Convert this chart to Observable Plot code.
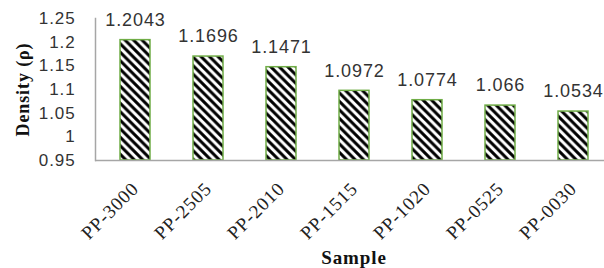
<!DOCTYPE html>
<html>
<head>
<meta charset="utf-8">
<script src="https://cdn.jsdelivr.net/npm/d3@7"></script>
<script src="https://cdn.jsdelivr.net/npm/@observablehq/plot@0.6"></script>
<style>
  html, body { margin: 0; padding: 0; background: #fff; }
  #chart svg { display: block; }
</style>
</head>
<body>
<div id="chart"></div>
<script>
const samples = ["PP-3000", "PP-2505", "PP-2010", "PP-1515", "PP-1020", "PP-0525", "PP-0030"];
const density = [1.2043, 1.1696, 1.1471, 1.0972, 1.0774, 1.066, 1.0534];
const yTicks = [0.95, 1, 1.05, 1.1, 1.15, 1.2, 1.25];
const yLabel = "Density (ρ)";
const xLabel = "Sample";

const data = samples.map((s, i) => ({sample: s, density: density[i]}));

const sans = "'Liberation Sans', Arial, sans-serif";
const serif = "'Liberation Serif', 'Times New Roman', serif";

const chart = Plot.plot({
  width: 604,
  height: 268,
  marginLeft: 95,
  marginRight: 0,
  marginTop: 18,
  marginBottom: 108,
  style: {background: "#fff", color: "#333"},
  x: {domain: samples, range: [117, 591], paddingInner: 0.594, paddingOuter: 0, axis: null},
  y: {domain: [0.95, 1.25], axis: null},
  marks: [
    Plot.barY(data, {
      x: "sample", y1: 0.95, y2: "density",
      fill: "url(#hatch)", stroke: "#70ad47", strokeWidth: 1.5
    }),
    Plot.ruleY([0.95], {stroke: "#a6a6a6", strokeWidth: 1.5}),
    Plot.frame({anchor: "left", stroke: "#a6a6a6", strokeWidth: 1.5}),
    Plot.axisY({
      ticks: yTicks, tickSize: 0, tickPadding: 20,
      tickFormat: d => String(d), label: null,
      fontSize: 17, fontFamily: sans, fill: "#333"
    }),
    Plot.text(data, {
      x: "sample", y: "density", text: d => String(d.density),
      dy: -20, fontSize: 18, fontFamily: sans, fill: "#333"
    }),
    Plot.text(samples, {
      x: d => d, text: d => d, frameAnchor: "bottom",
      dx: 0, dy: 25, rotate: -45, textAnchor: "end", lineAnchor: "middle",
      fontSize: 19, fontFamily: serif, fill: "#222"
    }),
    Plot.text([yLabel], {
      text: d => d, frameAnchor: "left", dx: -72, rotate: -90,
      textAnchor: "middle", lineAnchor: "middle",
      fontSize: 18, fontWeight: "bold", fontFamily: serif, fill: "#111"
    }),
    Plot.text([xLabel], {
      text: d => d, frameAnchor: "bottom", dx: 4, dy: 97,
      textAnchor: "middle", lineAnchor: "middle",
      fontSize: 19, fontWeight: "bold", fontFamily: serif, fill: "#111"
    })
  ]
});

const svg = d3.select(chart);
const pat = svg.insert("defs", ":first-child")
  .append("pattern")
  .attr("id", "hatch")
  .attr("patternUnits", "userSpaceOnUse")
  .attr("width", 8.5)
  .attr("height", 8.5);
pat.append("rect").attr("width", 8.5).attr("height", 8.5).attr("fill", "#fff");
pat.append("path")
  .attr("d", "M-2,-2L10.5,10.5M-2,6.5L2,10.5M6.5,-2L10.5,2")
  .attr("stroke", "#000")
  .attr("stroke-width", 3);

// letter spacing to mimic the wider original glyphs
svg.selectAll("text").style("letter-spacing", "0.9px");

document.getElementById("chart").append(chart);
</script>
</body>
</html>
